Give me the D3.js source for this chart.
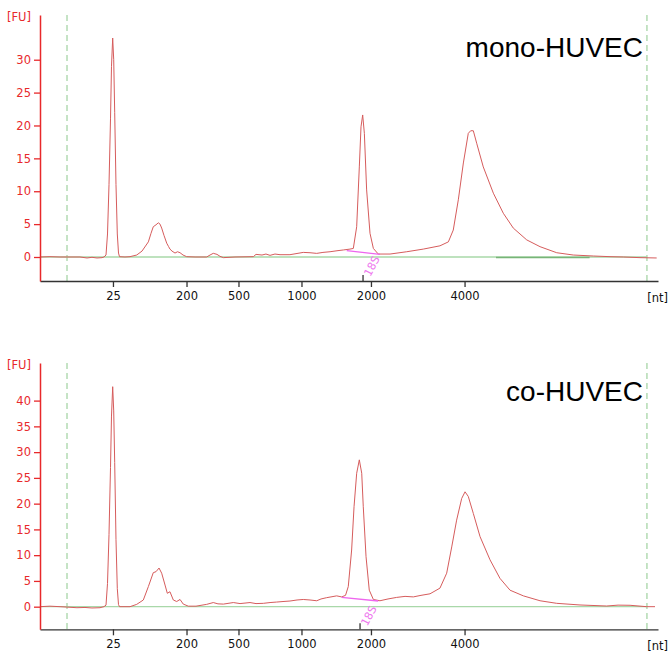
<!DOCTYPE html>
<meta charset="utf-8">
<head>
<title>Electropherogram mono vs co HUVEC</title>
<script src="https://cdn.jsdelivr.net/npm/d3@7"></script>
<style>
body { margin: 0; background: #fff; }
.tick-label { font-family: "DejaVu Sans", Verdana, sans-serif; font-size: 11.5px; }
.title { font-family: "Liberation Sans", Arial, sans-serif; font-size: 28px; fill: #000; }
</style>
</head>
<body>
<script>
// ladder sizes (nt) and their migration times (s)
const ladderNt = [25, 200, 500, 1000, 2000, 4000];
const ladderTime = [23.08, 29.21, 33.54, 38.79, 44.58, 52.38];

// lower / upper marker times (dashed lines)
const markerTimes = [19.25, 67.58];

// mono-HUVEC trace [time s, FU]
const monoTrace = [
  [17.00, 0], [17.83, 0.05], [18.67, 0], [20.33, 0], [20.92, -0.15], [21.33, -0.05],
  [21.75, -0.15], [22.17, -0.1], [22.33, 0], [22.50, 0.3], [22.625, 3.5], [22.75, 11],
  [22.875, 21], [22.958, 29], [23.058, 33.3], [23.142, 30], [23.225, 22], [23.333, 11],
  [23.442, 3.5], [23.542, 0.6], [23.625, 0.05], [24.08, 0], [24.5, 0.05], [25.06, 0.3],
  [25.5, 0.9], [26.03, 2.3], [26.25, 3.6], [26.44, 4.6], [26.67, 4.9], [26.86, 5.2],
  [27.0, 5.0], [27.14, 4.4], [27.33, 3.3], [27.56, 2.1], [27.71, 1.6], [27.83, 1.2],
  [28.0, 0.9], [28.25, 0.6], [28.46, 0.8], [28.67, 0.65], [28.92, 0.3], [29.22, 0.05],
  [29.92, 0], [30.89, 0], [31.17, 0.3], [31.44, 0.56], [31.75, 0.4], [32.0, 0.1],
  [32.28, -0.1], [33.25, 0], [34.78, 0.05], [35.0, 0.4], [35.5, 0.3], [35.83, 0.45],
  [36.17, 0.25], [36.58, 0.45], [37.0, 0.35], [37.83, 0.35], [38.94, 0.7], [39.5, 0.65],
  [40.06, 0.55], [40.58, 0.7], [41.17, 0.8], [41.75, 0.95], [42.28, 1.07], [42.83, 1.2],
  [43.11, 1.3], [43.39, 4.6], [43.61, 13.7], [43.75, 19.8], [43.89, 21.6], [44.03, 18.8],
  [44.22, 10.2], [44.5, 3.6], [44.78, 1.3], [45.19, 0.45], [46.17, 0.45], [47.56, 0.8],
  [48.94, 1.2], [50.33, 1.7], [51.03, 2.3], [51.44, 4.1], [51.86, 8.7], [52.28, 14.3],
  [52.69, 18.8], [52.89, 19.2], [53.11, 19.2], [53.39, 17.3], [53.94, 13.7], [54.78, 9.7],
  [55.61, 6.65], [56.44, 4.4], [57.56, 2.6], [58.67, 1.57], [60.06, 0.65], [61.44, 0.3],
  [63.11, 0.15], [64.5, 0.05], [65.61, 0], [67.0, -0.1], [68.39, -0.15]
];

// co-HUVEC trace [time s, FU]
const coTrace = [
  [17.00, 0], [17.83, 0.1], [18.67, 0], [20.08, -0.2], [20.75, -0.15], [21.33, -0.25],
  [22.0, -0.2], [22.33, 0], [22.50, 0.3], [22.625, 4.5], [22.75, 14], [22.875, 27],
  [22.958, 37], [23.058, 42.7], [23.142, 38], [23.225, 28], [23.333, 13], [23.442, 3.5],
  [23.542, 0.4], [23.625, 0], [24.5, 0], [25.06, 0.45], [25.61, 1.3], [26.03, 3.9],
  [26.44, 6.6], [26.67, 6.8], [26.92, 7.5], [27.14, 6.5], [27.42, 4.2], [27.61, 2.6],
  [27.83, 2.9], [28.11, 1.3], [28.39, 1.0], [28.67, 1.4], [28.94, 0.5], [29.36, 0.1],
  [30.0, 0.1], [30.89, 0.45], [31.44, 0.8], [31.83, 0.55], [32.28, 0.5], [33.11, 0.8],
  [33.67, 0.6], [34.5, 0.8], [35.0, 0.6], [35.61, 0.65], [36.17, 0.8], [36.72, 0.9],
  [37.25, 1.0], [37.83, 1.1], [38.42, 1.3], [38.94, 1.4], [39.5, 1.3], [40.06, 1.15],
  [40.42, 1.5], [40.89, 1.75], [41.25, 1.9], [41.72, 2.1], [42.14, 1.9], [42.46, 2.2],
  [42.69, 3.9], [42.97, 11], [43.17, 19.4], [43.39, 25.9], [43.61, 28.5], [43.81, 25.9],
  [43.94, 19.4], [44.17, 9.7], [44.44, 3.2], [44.78, 1.4], [45.33, 1.15], [46.0, 1.5],
  [46.72, 1.8], [47.42, 2.0], [48.11, 1.9], [48.75, 2.2], [49.5, 2.5], [50.33, 3.6],
  [50.89, 6.5], [51.31, 11.6], [51.72, 16.8], [52.14, 21.0], [52.42, 22.3], [52.69, 21.4],
  [53.11, 18.1], [53.67, 13.6], [54.5, 9.1], [55.33, 5.5], [56.17, 3.2], [57.28, 2.1],
  [58.67, 1.15], [60.06, 0.65], [62.0, 0.33], [64.22, 0.13], [65.17, 0.3], [66.17, 0.27],
  [67.56, 0], [68.25, 0]
];

// 18S region: [start t, start FU, end t, end FU], peak time
const mono18S = [42.56, 0.96, 45.33, 0.41];
const mono18STime = 43.92;
const co18S = [42.14, 1.8, 45.19, 1.1];
const co18STime = 43.67;

const monoTicks = [0, 5, 10, 15, 20, 25, 30];
const coTicks = [0, 5, 10, 15, 20, 25, 30, 35, 40];

const W = 669, H = 654;
const svg = d3.select("body").append("svg")
  .attr("width", W).attr("height", H);

const x = d3.scaleLinear().domain([17, 68.5]).range([40, 658]);

const panels = [
  { name: "mono-HUVEC", trace: monoTrace, ticks: monoTicks, yDomain: [-3.65, 36.8],
    top: 15, bottom: 281, seg: mono18S, segT: mono18STime, titleY: 57, darkGreen: [55.0, 62.8] },
  { name: "co-HUVEC", trace: coTrace, ticks: coTicks, yDomain: [-4.39, 47.3],
    top: 363, bottom: 629.3, seg: co18S, segT: co18STime, titleY: 401, darkGreen: null }
];

const red = "#e8292b";
const traceColor = "#d65c5c";

panels.forEach(p => {
  const y = d3.scaleLinear().domain(p.yDomain).range([p.bottom, p.top]);
  const g = svg.append("g");

  // dashed marker lines
  g.selectAll(".marker")
    .data(markerTimes)
    .enter().append("line")
    .attr("x1", d => x(d)).attr("x2", d => x(d))
    .attr("y1", p.top).attr("y2", p.bottom)
    .attr("stroke", "#8cc88c").attr("stroke-width", 1)
    .attr("stroke-dasharray", "6,4");

  // baseline
  g.append("line")
    .attr("x1", x(17)).attr("x2", x(markerTimes[1]))
    .attr("y1", y(0)).attr("y2", y(0))
    .attr("stroke", "#a9d8a9").attr("stroke-width", 1.3);
  if (p.darkGreen) {
    g.append("line")
      .attr("x1", x(p.darkGreen[0])).attr("x2", x(p.darkGreen[1]))
      .attr("y1", y(0) + 0.5).attr("y2", y(0) + 0.5)
      .attr("stroke", "#78b478").attr("stroke-width", 1.3);
  }

  // trace
  const line = d3.line().x(d => x(d[0])).y(d => y(d[1]));
  g.append("path")
    .datum(p.trace)
    .attr("d", line)
    .attr("fill", "none")
    .attr("stroke", traceColor)
    .attr("stroke-width", 1)
    .attr("stroke-linejoin", "round");

  // 18S baseline segment
  g.append("line")
    .attr("x1", x(p.seg[0])).attr("y1", y(p.seg[1]))
    .attr("x2", x(p.seg[2])).attr("y2", y(p.seg[3]))
    .attr("stroke", "#ee66ee").attr("stroke-width", 1.3);

  g.append("text")
    .attr("transform", `translate(${x(p.segT) + 9.5},${y(0) + 9.5}) rotate(-62)`)
    .attr("text-anchor", "middle")
    .attr("dominant-baseline", "middle")
    .attr("font-family", "DejaVu Sans, sans-serif")
    .attr("font-size", "11px")
    .attr("fill", "#ee77ee")
    .text("18S");

  // x axis
  const xAxis = d3.axisBottom(x)
    .tickValues(ladderTime)
    .tickFormat((d, i) => ladderNt[i])
    .tickSize(6)
    .tickSizeOuter(0);
  const xg = g.append("g")
    .attr("transform", `translate(0,${p.bottom})`)
    .call(xAxis);
  xg.select(".domain").attr("stroke", "#333").attr("stroke-width", 1.3);
  xg.selectAll(".tick line").attr("stroke", "#333").attr("stroke-width", 1.3);
  xg.selectAll(".tick text").attr("class", "tick-label").attr("fill", "#111").attr("dy", "0.85em");

  // 18S tick above axis
  g.append("line")
    .attr("x1", x(p.segT)).attr("x2", x(p.segT))
    .attr("y1", p.bottom - 6).attr("y2", p.bottom)
    .attr("stroke", "#333").attr("stroke-width", 1.3);

  g.append("text")
    .attr("class", "tick-label")
    .attr("x", 668).attr("y", p.bottom + 21)
    .attr("text-anchor", "end")
    .attr("fill", "#111")
    .text("[nt]");

  // y axis
  const yAxis = d3.axisLeft(y)
    .tickValues(p.ticks)
    .tickSize(6)
    .tickSizeOuter(0);
  const yg = g.append("g")
    .attr("transform", `translate(40,0)`)
    .call(yAxis);
  yg.select(".domain").attr("stroke", red).attr("stroke-width", 1.5);
  yg.selectAll(".tick line").attr("stroke", red).attr("stroke-width", 1.3);
  yg.selectAll(".tick text").attr("class", "tick-label").attr("fill", red).attr("x", -9);

  g.append("text")
    .attr("class", "tick-label")
    .attr("x", 31).attr("y", p.top + 6)
    .attr("text-anchor", "end")
    .attr("fill", red)
    .text("[FU]");

  // title
  g.append("text")
    .attr("class", "title")
    .attr("x", 643).attr("y", p.titleY)
    .attr("text-anchor", "end")
    .text(p.name);
});
</script>
</body>
</html>
